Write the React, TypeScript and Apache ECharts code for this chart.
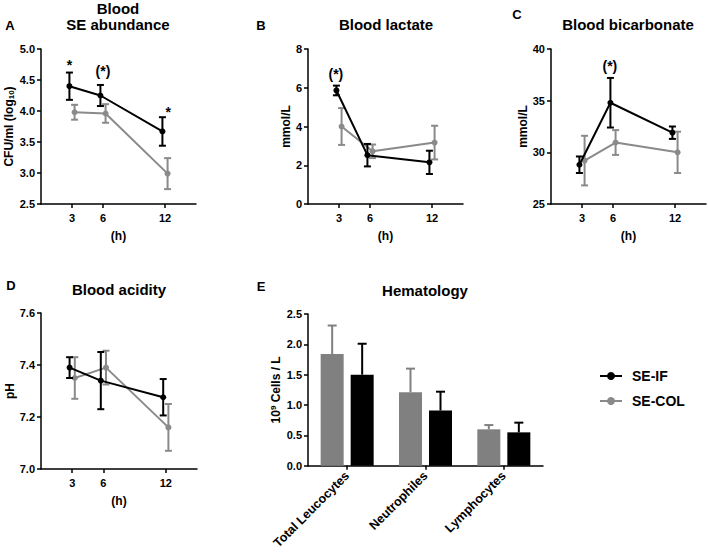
import React, { useEffect, useRef } from "react";
import * as echarts from "echarts";

const HOURS = [3, 6, 12];
const DODGE = 0.25;

const A_IF = [4.4, 4.25, 3.67];
const A_IF_ERR = [0.22, 0.17, 0.23];
const A_COL = [3.98, 3.96, 2.99];
const A_COL_ERR = [0.12, 0.15, 0.25];

const B_IF = [5.86, 2.52, 2.15];
const B_IF_ERR = [0.25, 0.58, 0.6];
const B_COL = [4.0, 2.72, 3.17];
const B_COL_ERR = [0.95, 0.35, 0.87];

const C_IF = [28.8, 34.8, 31.9];
const C_IF_ERR = [0.8, 2.4, 0.6];
const C_COL = [29.2, 30.95, 30.0];
const C_COL_ERR = [2.4, 1.2, 2.0];

const D_IF = [7.39, 7.34, 7.276];
const D_IF_ERR = [0.04, 0.11, 0.07];
const D_COL = [7.35, 7.39, 7.16];
const D_COL_ERR = [0.08, 0.065, 0.09];

const E_CATS = ["Total Leucocytes", "Neutrophiles", "Lymphocytes"];
const E_COL = [1.84, 1.21, 0.6];
const E_COL_ERR = [0.47, 0.39, 0.07];
const E_IF = [1.5, 0.91, 0.55];
const E_IF_ERR = [0.51, 0.31, 0.16];

// annotations: [hour position, value position, text]
const A_NOTES: [number, number, string][] = [
  [2.75, 4.74, "*"],
  [6.0, 4.64, "(*)"],
  [12.3, 3.98, "*"],
];
const B_NOTES: [number, number, string][] = [[2.7, 6.71, "(*)"]];
const C_NOTES: [number, number, string][] = [[5.7, 38.35, "(*)"]];

const FONT = "'Liberation Sans', Arial, Helvetica, sans-serif";
const BLACK = "#000000";
const GREY = "#8a8a8a";
const BAR_GREY = "#808080";
const BAR_W = 23;
const BAR_GAP = 7;

const pts = (vals: number[], off: number) => HOURS.map((h, i) => [h + off, vals[i]]);
const errs = (vals: number[], e: number[], off: number) =>
  HOURS.map((h, i) => [h + off, vals[i] - e[i], vals[i] + e[i]]);

function errRender(color: string) {
  return (params: any, api: any) => {
    const x = api.value(0);
    const lo = api.coord([x, api.value(1)]);
    const hi = api.coord([x, api.value(2)]);
    const w = 3.5;
    const style = { stroke: color, lineWidth: 2 };
    return {
      type: "group",
      children: [
        { type: "line", shape: { x1: lo[0], y1: lo[1], x2: hi[0], y2: hi[1] }, style },
        { type: "line", shape: { x1: lo[0] - w, y1: lo[1], x2: lo[0] + w, y2: lo[1] }, style },
        { type: "line", shape: { x1: hi[0] - w, y1: hi[1], x2: hi[0] + w, y2: hi[1] }, style },
      ],
    };
  };
}

function barErrRender(color: string, side: number) {
  return (params: any, api: any) => {
    const c = api.value(0);
    const base = api.coord([c, api.value(1)]);
    const top = api.coord([c, api.value(2)]);
    const x = base[0] + side * (BAR_W + BAR_GAP) / 2;
    const w = 4.5;
    const style = { stroke: color, lineWidth: 2 };
    return {
      type: "group",
      children: [
        { type: "line", shape: { x1: x, y1: base[1], x2: x, y2: top[1] }, style },
        { type: "line", shape: { x1: x - w, y1: top[1], x2: x + w, y2: top[1] }, style },
      ],
    };
  };
}

function noteRender(params: any, api: any) {
  const p = api.coord([api.value(0), api.value(1)]);
  return {
    type: "text",
    x: p[0],
    y: p[1],
    style: {
      text: String(api.value(2)),
      font: `bold 14px ${FONT}`,
      fill: BLACK,
      align: "center",
      verticalAlign: "middle",
    },
  };
}

const axisLine = { show: true, lineStyle: { color: BLACK, width: 1.5 } };
const tickLabel = { color: BLACK, fontFamily: FONT, fontWeight: "bold", fontSize: 11 };

function hourAxis(gridIndex: number) {
  return {
    type: "value",
    gridIndex,
    min: 0,
    max: 15,
    axisLine,
    axisTick: { show: true, customValues: HOURS, length: 4, lineStyle: { color: BLACK, width: 1.5 } },
    axisLabel: { ...tickLabel, customValues: HOURS, margin: 8 },
    splitLine: { show: false },
    name: "(h)",
    nameLocation: "middle",
    nameGap: 26,
    nameTextStyle: { color: BLACK, fontFamily: FONT, fontWeight: "bold", fontSize: 12 },
  };
}

function valAxis(gridIndex: number, min: number, max: number, interval: number, dec: number, name: string, nameGap: number, rich?: any) {
  return {
    type: "value",
    gridIndex,
    min,
    max,
    interval,
    axisLine,
    axisTick: { show: true, length: 4, lineStyle: { color: BLACK, width: 1.5 } },
    axisLabel: { ...tickLabel, margin: 6, formatter: (v: number) => v.toFixed(dec) },
    splitLine: { show: false },
    name,
    nameLocation: "middle",
    nameRotate: 90,
    nameGap,
    nameTextStyle: { color: BLACK, fontFamily: FONT, fontWeight: "bold", fontSize: 12, rich },
  };
}

function linePanel(idx: number, ifv: number[], ife: number[], colv: number[], cole: number[]) {
  const common = { xAxisIndex: idx, yAxisIndex: idx };
  return [
    {
      type: "custom",
      ...common,
      renderItem: errRender(GREY),
      data: errs(colv, cole, DODGE),
      z: 2,
    },
    {
      type: "line",
      name: "SE-COL",
      ...common,
      data: pts(colv, DODGE),
      symbol: "circle",
      symbolSize: 6,
      itemStyle: { color: GREY },
      lineStyle: { color: GREY, width: 2 },
      z: 3,
    },
    {
      type: "custom",
      ...common,
      renderItem: errRender(BLACK),
      data: errs(ifv, ife, -DODGE),
      z: 4,
    },
    {
      type: "line",
      name: "SE-IF",
      ...common,
      data: pts(ifv, -DODGE),
      symbol: "circle",
      symbolSize: 6,
      itemStyle: { color: BLACK },
      lineStyle: { color: BLACK, width: 2 },
      z: 5,
    },
  ];
}

function notes(idx: number, list: [number, number, string][]) {
  return {
    type: "custom",
    xAxisIndex: idx,
    yAxisIndex: idx,
    renderItem: noteRender,
    data: list,
    z: 6,
    silent: true,
  };
}

function txt(x: number, y: number, text: string, size: number, align = "center") {
  return {
    type: "text",
    x,
    y,
    style: {
      text,
      font: `bold ${size}px ${FONT}`,
      fill: BLACK,
      textAlign: align,
      textVerticalAlign: "middle",
    },
  };
}

export default function App() {
  const ref = useRef<HTMLDivElement>(null);
  useEffect(() => {
    if (!ref.current) return;
    const chart = echarts.init(ref.current, null, { renderer: "svg" });
    const option: any = {
      animation: false,
      backgroundColor: "#ffffff",
      grid: [
        { left: 41, top: 49, width: 155, height: 155 },
        { left: 308, top: 49, width: 155, height: 155 },
        { left: 551, top: 49, width: 155, height: 155 },
        { left: 41, top: 313, width: 156, height: 156 },
        { left: 308, top: 314, width: 235, height: 155 },
      ],
      xAxis: [
        hourAxis(0),
        hourAxis(1),
        hourAxis(2),
        hourAxis(3),
        {
          type: "category",
          gridIndex: 4,
          data: E_CATS,
          axisLine,
          axisTick: { show: true, alignWithLabel: true, length: 4, lineStyle: { color: BLACK, width: 1.5 } },
          axisLabel: { ...tickLabel, fontSize: 12.5, rotate: 45, margin: 8, interval: 0 },
        },
      ],
      yAxis: [
        valAxis(0, 2.5, 5, 0.5, 1, "CFU/ml (log{sub|10})", 24, {
          sub: { fontSize: 8, fontWeight: "bold", fontFamily: FONT, color: BLACK, verticalAlign: "bottom", padding: [6, 0, 0, 0] },
        }),
        valAxis(1, 0, 8, 2, 0, "mmol/L", 15),
        valAxis(2, 25, 40, 5, 0, "mmol/L", 22),
        valAxis(3, 7.0, 7.6, 0.2, 1, "pH", 24),
        valAxis(4, 0, 2.5, 0.5, 1, "10{sup|9} Cells / L", 25, {
          sup: { fontSize: 8, fontWeight: "bold", fontFamily: FONT, color: BLACK, verticalAlign: "top", padding: [0, 0, 6, 0] },
        }),
      ],
      legend: {
        data: ["SE-IF", "SE-COL"],
        orient: "vertical",
        left: 594,
        top: 364,
        itemWidth: 22,
        itemHeight: 10,
        itemGap: 11,
        textStyle: { color: BLACK, fontFamily: FONT, fontWeight: "bold", fontSize: 14, padding: [0, 0, 0, 5] },
        selectedMode: false,
      },
      series: [
        ...linePanel(0, A_IF, A_IF_ERR, A_COL, A_COL_ERR),
        ...linePanel(1, B_IF, B_IF_ERR, B_COL, B_COL_ERR),
        ...linePanel(2, C_IF, C_IF_ERR, C_COL, C_COL_ERR),
        ...linePanel(3, D_IF, D_IF_ERR, D_COL, D_COL_ERR),
        notes(0, A_NOTES),
        notes(1, B_NOTES),
        notes(2, C_NOTES),
        {
          type: "bar",
          xAxisIndex: 4,
          yAxisIndex: 4,
          data: E_COL,
          barWidth: BAR_W,
          barGap: `${(BAR_GAP / BAR_W) * 100}%`,
          itemStyle: { color: BAR_GREY },
        },
        {
          type: "bar",
          xAxisIndex: 4,
          yAxisIndex: 4,
          data: E_IF,
          barWidth: BAR_W,
          barGap: `${(BAR_GAP / BAR_W) * 100}%`,
          itemStyle: { color: BLACK },
        },
        {
          type: "custom",
          xAxisIndex: 4,
          yAxisIndex: 4,
          renderItem: barErrRender(BAR_GREY, -1),
          data: E_COL.map((v, i) => [i, v, v + E_COL_ERR[i]]),
          z: 1,
        },
        {
          type: "custom",
          xAxisIndex: 4,
          yAxisIndex: 4,
          renderItem: barErrRender(BLACK, 1),
          data: E_IF.map((v, i) => [i, v, v + E_IF_ERR[i]]),
          z: 1,
        },
      ],
      graphic: [
        txt(10, 25, "A", 13),
        txt(118, 8, "Blood", 15),
        txt(118, 24, "SE abundance", 15),
        txt(261, 25, "B", 13),
        txt(386, 24, "Blood lactate", 15),
        txt(517, 14, "C", 13),
        txt(628, 24, "Blood bicarbonate", 15),
        txt(11, 285, "D", 13),
        txt(119, 289, "Blood acidity", 15),
        txt(261, 286, "E", 13),
        txt(425, 290, "Hematology", 15),
      ],
    };
    chart.setOption(option);
    return () => chart.dispose();
  }, []);
  return (
    <div
      ref={ref}
      style={{ position: "fixed", left: 0, top: 0, width: 708, height: 552, background: "#fff" }}
    />
  );
}
